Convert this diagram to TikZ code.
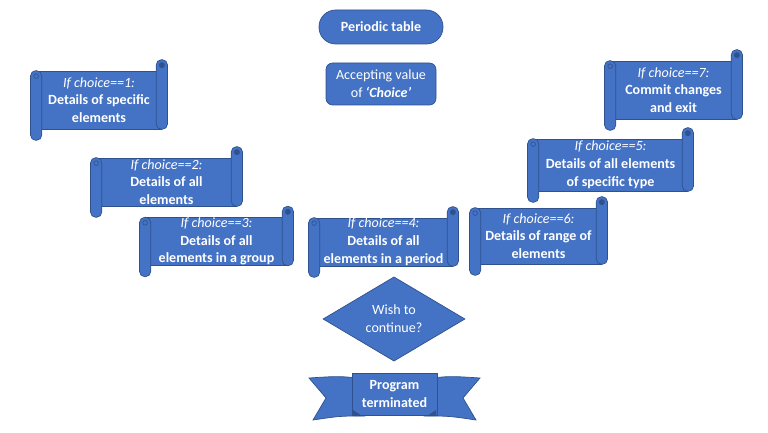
\documentclass[tikz,border=0pt]{standalone}
\usepackage{fontspec}
\setmainfont{Carlito}
\usetikzlibrary{shapes.geometric,backgrounds,calc}

\definecolor{boxblue}{HTML}{4472C4}
\definecolor{edgeblue}{HTML}{2F528F}

% the two rolled ends of a scroll node
\newcommand{\scrollrolls}[1]{%
  \draw[roll] ($(#1.north east)+(-0.17cm,0.33cm)$) rectangle ($(#1.south east)+(0.17cm,0)$);
  \fill[edgeblue] ($(#1.north east)+(0,0.165cm)$) circle (0.09cm);
  \draw[roll] ($(#1.north west)+(-0.17cm,0)$) rectangle ($(#1.south west)+(0.17cm,-0.33cm)$);
  \draw[edgeblue, line width=0.5pt] ($(#1.north west)+(0,-0.165cm)$) circle (0.07cm);
}

\begin{document}
\begin{tikzpicture}[
    x=0.03cm, y=-0.03cm,
    txt/.style={text=white, align=center, inner sep=0pt, font=\fontsize{12}{15.2}\selectfont},
    bluebox/.style={txt, draw=edgeblue, fill=boxblue, line width=0.6pt},
    scrollbox/.style={bluebox},
    roll/.style={fill=boxblue, draw=edgeblue, line width=0.6pt, rounded corners=0.16cm},
    wing/.style={fill=boxblue, draw=edgeblue, line width=0.6pt}
]
\useasboundingbox (0,0) rectangle (768,433);

\node[bluebox, rounded corners=0.5cm, minimum width=3.72cm, minimum height=1.02cm] (start) at (381,27) {\textbf{Periodic table}};
\node[bluebox, rounded corners=0.2cm, minimum width=3.3cm, minimum height=1.26cm] (input) at (381,84) {Accepting value\\of \textbf{\textit{‘Choice’}}};

\node[scrollbox, minimum width=3.75cm, minimum height=1.74cm] (ch1) at (99,100) {\textit{If choice==1:}\\\textbf{Details of specific}\\\textbf{elements}};
\node[scrollbox, minimum width=4.2cm, minimum height=1.44cm] (ch2) at (166.5,182) {\textit{If choice==2:}\\\textbf{Details of all}\\\textbf{elements}};
\node[scrollbox, minimum width=4.26cm, minimum height=1.35cm] (ch3) at (216.5,241.5) {\textit{If choice==3:}\\\textbf{Details of all}\\\textbf{elements in a group}};
\node[scrollbox, minimum width=4.14cm, minimum height=1.44cm] (ch4) at (383.5,242) {\textit{If choice==4:}\\\textbf{Details of all}\\\textbf{elements in a period}};
\node[scrollbox, minimum width=4.62cm, minimum height=1.56cm] (ch5) at (610.5,165) {\textit{If choice==5:}\\\textbf{Details of all elements}\\\textbf{of specific type}};
\node[scrollbox, minimum width=3.78cm, minimum height=1.68cm] (ch6) at (538.5,236) {\textit{If choice==6:}\\\textbf{Details of range of}\\\textbf{elements}};
\node[scrollbox, minimum width=3.78cm, minimum height=1.74cm] (ch7) at (673.5,90) {\textit{If choice==7:}\\\textbf{Commit changes}\\\textbf{and exit}};

\foreach \s in {ch1,ch2,ch3,ch4,ch5,ch6,ch7}
  \scrollrolls{\s};

\node[bluebox, diamond, minimum width=4.26cm, minimum height=2.52cm] (again) at (394,319) {Wish to\\continue?};

\node[bluebox, minimum width=2.55cm, minimum height=1.26cm] (stop) at (394.5,394) {\textbf{Program}\\\textbf{terminated}};
\begin{scope}[on background layer]
  \draw[wing] (365,379) .. controls (340,376) .. (309,378) -- (326,398) -- (313,420) .. controls (340,416) .. (365,416) -- cycle;
  \draw[wing] (424,379) .. controls (449,376) .. (480,378) -- (463,398) -- (476,420) .. controls (449,416) .. (424,416) -- cycle;
\end{scope}
\fill[edgeblue] (353,410) -- (362,416) -- (353,416) -- cycle;
\fill[edgeblue] (436,410) -- (427,416) -- (436,416) -- cycle;
\end{tikzpicture}
\end{document}
